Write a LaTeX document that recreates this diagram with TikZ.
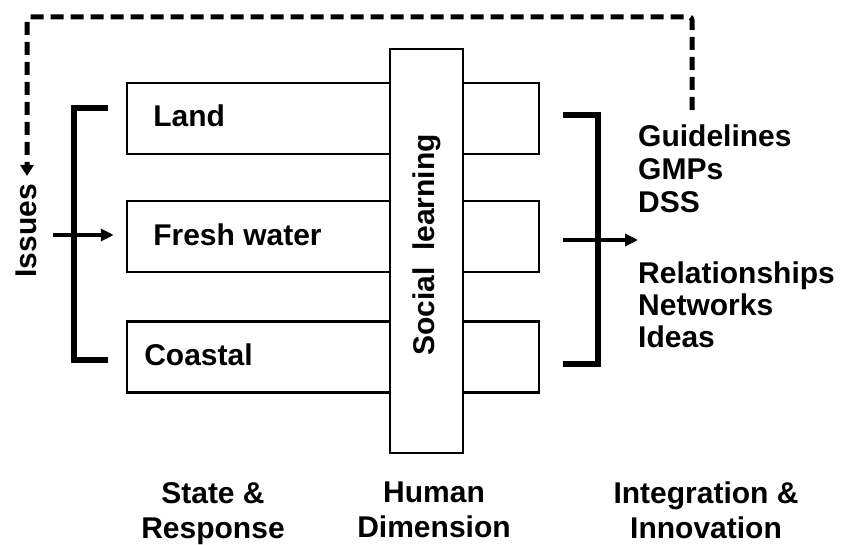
\documentclass[tikz,border=0pt]{standalone}
\usepackage{fontspec}
\setmainfont{Liberation Sans}
\usetikzlibrary{arrows.meta}
\begin{document}
\begin{tikzpicture}[x=1pt, y=-1pt, font=\fontsize{30}{33}\selectfont\bfseries, >={Triangle[length=13pt,width=12pt]},
		box/.style={draw, line width=2.5pt, minimum width=412pt, minimum height=71pt, inner sep=0pt},
		brace/.style={line width=6pt},
		flow/.style={->, line width=4pt}]
	\useasboundingbox (0,0) rectangle (842,545);
	\path (74,108) coordinate (LT) (74,360) coordinate (LB) (53,235) coordinate (I)
		(598,115) coordinate (RT) (598,364) coordinate (RB) (563,240) coordinate (O) (638,240) coordinate (P)
		(692,110) coordinate (F);
	\foreach \n/\y/\lbl/\d in {land/118.5/Land/24, fresh/236.5/Fresh water/24, coastal/357/Coastal/15}{
		\node[box] (\n) at (333,\y) {};
		\node[anchor=base west] (\n-t) at ([xshift=\d pt, yshift=-8.5pt]\n.west) {\lbl};
	}
	\node[draw, fill=white, line width=2.5pt, minimum width=73pt, minimum height=404pt] (social) at (426.5,251) {};
	\node[rotate=90] (social-t) at (427,245) {Social\ \ learning};
	\draw[brace] ([xshift=34pt]LT)--(LT)--(LB)--([xshift=34pt]LB);
	\draw[brace] ([xshift=-35pt]RT)--(RT)--(RB)--([xshift=-35pt]RB);
	\draw[flow] (I)--(I-|fresh.west) [shorten >=12pt];
	\draw[flow] (O)--(P);
	\node[rotate=90] (issues) at (26,231) {Issues};
	\draw[line width=5pt, dash pattern=on 13pt off 7pt, rounded corners=3pt, -{Triangle[length=11pt,width=13pt]}] (F)--(692,17)--(27,17)--(27,176);
	\foreach \w [count=\i] in {Guidelines, GMPs, DSS}{
		\node[anchor=base west, inner sep=0pt] (tool\i) at (638,{147+33*(\i-1)}) {\w};
	}
	\foreach \w [count=\i] in {Relationships, Networks, Ideas}{
		\node[anchor=base west, inner sep=0pt] (link\i) at (638,{283+32*(\i-1)}) {\w};
	}
	\foreach \n/\x/\lbl in {state/213/State \&\\Response, human/434/Human\\Dimension, innov/706/Integration \&\\Innovation}{
		\node[align=center, anchor=north, inner sep=0pt, font=\fontsize{30}{35}\selectfont\bfseries] (\n) at (\x,482) {\lbl};
	}
\end{tikzpicture}
\end{document}
